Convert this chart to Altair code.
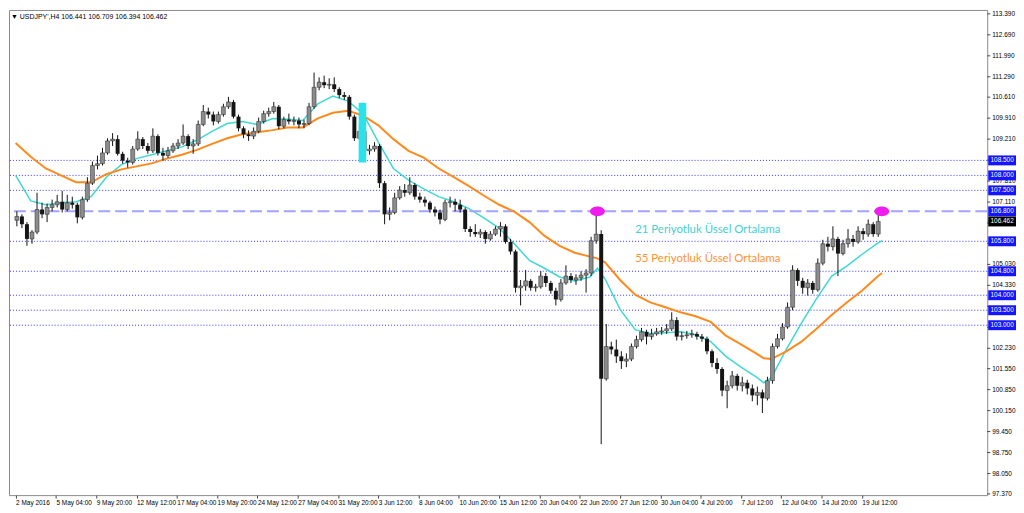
import json
import altair as alt
import pandas as pd

# ---------------- data (USDJPY, candles aggregated to 8h, prices in JPY) ----------------
first_open = 106.50
closes = [
    106.63, 106.37, 105.88, 106.11, 106.86, 106.70, 106.93, 107.02, 107.12, 106.86,
    107.09, 107.02, 106.60, 107.19, 107.74, 108.33, 108.39, 108.75, 109.15, 109.21,
    108.72, 108.49, 108.43, 108.88, 109.21, 108.98, 108.82, 109.31, 108.75, 108.66,
    108.82, 108.98, 109.08, 109.31, 108.98, 109.05, 109.70, 110.13, 110.03, 109.80,
    110.03, 110.29, 110.45, 109.96, 109.57, 109.37, 109.31, 109.47, 109.80, 110.06,
    110.13, 110.29, 109.64, 109.86, 109.80, 109.83, 109.70, 109.73, 110.29, 110.94,
    111.11, 111.01, 111.04, 110.88, 110.68, 110.62, 109.96, 109.24, 109.47, 108.82,
    108.88, 108.98, 107.74, 106.70, 106.76, 107.25, 107.51, 107.42, 107.68, 107.29,
    107.19, 107.09, 106.86, 106.76, 106.53, 107.09, 107.12, 107.02, 106.86, 106.21,
    106.11, 106.04, 106.11, 105.88, 106.04, 106.21, 106.30, 105.78, 105.46, 104.25,
    104.31, 104.48, 104.25, 104.28, 104.64, 104.41, 104.15, 103.86, 104.41, 104.64,
    104.51, 104.58, 104.67, 104.74, 105.82, 106.04, 101.21, 102.29, 102.19, 101.96,
    101.80, 101.87, 102.29, 102.52, 102.78, 102.62, 102.71, 102.78, 102.81, 102.88,
    103.17, 102.62, 102.65, 102.68, 102.71, 102.62, 102.55, 102.13, 101.74, 101.54,
    100.82, 100.98, 101.31, 100.98, 101.08, 100.89, 100.66, 100.76, 100.56, 101.15,
    102.29, 102.55, 102.94, 103.60, 104.84, 104.48, 104.25, 104.41, 104.18, 105.07,
    105.72, 105.62, 105.88, 105.39, 105.72, 105.88, 105.78, 106.14, 106.04, 106.37,
    106.04, 106.462,
]
highs = [
    106.80, 106.70, 106.44, 106.17, 107.42, 107.09, 107.06, 107.19, 107.35, 107.48,
    107.35, 107.29, 107.09, 107.29, 107.94, 108.46, 108.66, 108.92, 109.24, 109.41,
    109.34, 108.79, 108.59, 108.98, 109.47, 109.28, 109.08, 109.57, 109.37, 108.92,
    108.95, 109.08, 109.21, 109.70, 109.37, 109.21, 109.83, 110.35, 110.26, 110.13,
    110.13, 110.39, 110.62, 110.52, 110.03, 109.64, 109.50, 109.60, 109.93, 110.16,
    110.26, 110.45, 110.35, 109.96, 110.06, 109.96, 109.93, 109.86, 110.42, 111.43,
    111.27, 111.33, 111.24, 111.27, 110.94, 110.78, 110.68, 110.03, 109.70, 109.57,
    109.02, 109.11, 109.05, 107.81, 106.93, 107.42, 107.64, 107.71, 107.94, 107.74,
    107.42, 107.29, 107.15, 106.96, 106.86, 107.19, 107.29, 107.22, 107.19, 106.93,
    106.30, 106.37, 106.21, 106.17, 106.14, 106.30, 106.44, 106.37, 105.88, 105.52,
    104.51, 104.84, 104.54, 104.38, 104.80, 104.74, 104.48, 104.25, 104.54, 105.00,
    104.74, 104.70, 104.80, 104.87, 105.95, 106.80, 106.17, 103.04, 102.45, 102.52,
    102.13, 102.06, 102.39, 102.65, 102.91, 102.85, 102.88, 102.91, 102.94, 103.04,
    103.43, 103.27, 102.78, 102.81, 102.85, 102.78, 102.71, 102.62, 102.19, 101.90,
    101.60, 101.15, 101.47, 101.38, 101.28, 101.18, 101.02, 100.95, 100.85, 101.28,
    102.39, 102.71, 103.07, 103.76, 105.00, 104.90, 104.58, 104.54, 104.48, 105.23,
    105.85, 105.95, 106.30, 105.95, 105.85, 106.21, 106.01, 106.30, 106.24, 106.53,
    106.44, 106.709,
]
lows = [
    106.30, 106.24, 105.65, 105.72, 106.04, 106.57, 106.44, 106.80, 106.93, 106.76,
    106.80, 106.89, 106.40, 106.53, 107.12, 107.68, 108.20, 108.33, 108.69, 108.98,
    108.66, 108.39, 108.26, 108.36, 108.82, 108.88, 108.72, 108.75, 108.66, 108.49,
    108.59, 108.75, 108.88, 109.02, 108.88, 108.72, 108.98, 109.64, 109.90, 109.67,
    109.73, 109.96, 110.22, 109.90, 109.47, 109.24, 109.15, 109.21, 109.41, 109.73,
    109.96, 110.06, 109.54, 109.57, 109.70, 109.67, 109.57, 109.57, 109.67, 110.22,
    110.84, 110.91, 110.88, 110.78, 110.58, 110.52, 109.86, 109.15, 109.18, 108.72,
    108.69, 108.79, 107.58, 106.37, 106.50, 106.70, 107.19, 107.29, 107.35, 107.19,
    107.09, 106.96, 106.76, 106.63, 106.37, 106.47, 106.93, 106.80, 106.76, 106.11,
    105.95, 105.95, 105.91, 105.72, 105.82, 105.98, 105.95, 105.72, 105.36, 104.09,
    103.66, 104.15, 104.15, 104.12, 104.22, 104.28, 104.05, 103.66, 103.79, 104.35,
    104.41, 104.35, 104.48, 104.09, 104.64, 105.72, 99.03, 101.15, 102.03, 101.74,
    101.54, 101.60, 101.80, 102.22, 102.45, 102.36, 102.52, 102.65, 102.68, 102.71,
    102.81, 102.49, 102.49, 102.55, 102.58, 102.52, 102.45, 102.03, 101.60, 101.38,
    100.63, 100.23, 100.89, 100.82, 100.79, 100.69, 100.46, 100.33, 100.07, 100.49,
    101.05, 102.22, 102.49, 102.88, 103.50, 104.31, 104.05, 103.99, 104.05, 104.12,
    105.00, 105.46, 105.49, 104.64, 105.33, 105.59, 105.62, 105.72, 105.85, 105.95,
    105.95, 105.95,
]

# moving averages (x in H4 bar numbers)
ema_bars = [0, 6, 12, 18, 24, 30, 36, 42, 48, 54, 60, 66, 72, 78, 84, 90, 96, 102, 108, 114,
            120, 126, 132, 138, 144, 150, 156, 162, 168, 174, 180, 186, 192, 198, 204, 210,
            216, 222, 228, 231, 234, 240, 246, 252, 258, 264, 270, 276, 282, 288, 294, 297,
            300, 306, 312, 318, 324, 330, 336, 342, 344]
ema21 = [108.00, 107.15, 107.02, 107.09, 107.12, 107.29, 107.94, 108.36, 108.56, 108.69,
         108.82, 108.95, 109.18, 109.47, 109.73, 109.80, 109.70, 109.90, 109.87, 109.83,
         110.39, 110.65, 110.48, 110.06, 109.11, 108.23, 107.84, 107.55, 107.29, 107.12,
         106.89, 106.57, 106.24, 105.72, 105.16, 104.90, 104.61, 104.48, 104.61, 104.90,
         104.55, 103.53, 102.85, 102.72, 102.75, 102.78, 102.68, 102.45, 101.96, 101.60,
         101.28, 101.08, 101.24, 102.19, 103.07, 103.89, 104.64, 104.97, 105.36, 105.72,
         105.82]
ema55 = [109.08, 108.62, 108.23, 108.00, 107.77, 107.77, 108.04, 108.20, 108.30, 108.40,
         108.56, 108.69, 108.85, 109.05, 109.24, 109.37, 109.44, 109.51, 109.60, 109.60,
         109.90, 110.09, 110.16, 109.99, 109.67, 109.21, 108.82, 108.59, 108.23, 107.94,
         107.64, 107.32, 107.02, 106.79, 106.44, 105.98, 105.65, 105.42, 105.29, 105.23,
         105.10, 104.51, 104.02, 103.76, 103.60, 103.43, 103.30, 103.11, 102.65, 102.36,
         102.06, 101.90, 101.87, 102.13, 102.45, 102.88, 103.34, 103.76, 104.15, 104.61,
         104.74]

level_prices = [108.5, 108.0, 107.5, 105.8, 104.8, 104.0, 103.5, 103.0]
key_level = 106.8
last_price = 106.462

# price scale: every tick, and the labels that stay readable beside the level boxes
price_ticks = [113.39, 112.69, 111.99, 111.29, 110.61, 109.91, 109.21, 108.51, 107.81, 107.11,
               106.41, 105.73, 105.03, 104.33, 103.63, 102.93, 102.23, 101.55, 100.85, 100.15,
               99.45, 98.75, 98.05, 97.37]
price_labels = [113.39, 112.69, 111.99, 111.29, 110.61, 109.91, 109.21, 107.81, 107.11,
                105.03, 104.33, 102.23, 101.55, 100.85, 100.15, 99.45, 98.75, 98.05, 97.37]
time_tick_bars = list(range(0, 337, 16))
time_labels = ["2 May 2016", "5 May 04:00", "9 May 20:00", "12 May 12:00", "17 May 04:00",
               "19 May 20:00", "24 May 12:00", "27 May 04:00", "31 May 20:00", "3 Jun 12:00",
               "8 Jun 04:00", "10 Jun 20:00", "15 Jun 12:00", "20 Jun 04:00", "22 Jun 20:00",
               "27 Jun 12:00", "30 Jun 04:00", "4 Jul 20:00", "7 Jul 12:00", "12 Jul 04:00",
               "14 Jul 20:00", "19 Jul 12:00"]

highlight_bars = [136.2, 139.2]
highlight_prices = [108.43, 110.42]
marker_bars = [231.0, 343.9]
note_bar = 246.0
note_prices = [106.17, 105.20]
note_texts = ["21 Periyotluk Üssel Ortalama", "55 Periyotluk Üssel Ortalama"]
title_text = "▼ USDJPY',H4  106.441 106.709 106.394 106.462"

assert len(closes) == len(highs) == len(lows)
assert len(ema_bars) == len(ema21) == len(ema55)

# ---------------- tables ----------------
opens = [first_open] + closes[:-1]
candles = pd.DataFrame({
    "bar": [2 * k + 0.5 for k in range(len(closes))],
    "open": opens, "high": highs, "low": lows, "close": closes,
})
up = candles[candles["close"] >= candles["open"]]
down = candles[candles["close"] < candles["open"]]
ema_df = pd.DataFrame({"bar": ema_bars, "ema21": ema21, "ema55": ema55})
levels_df = pd.DataFrame({"level": level_prices, "label": [f"{v:.3f}" for v in level_prices]})
key_df = pd.DataFrame({"level": [key_level], "label": [f"{key_level:.3f}"]})
boxes_df = pd.concat([levels_df, key_df], ignore_index=True)
last_df = pd.DataFrame({"level": [last_price], "label": [f"{last_price:.3f}"]})
ptick_df = pd.DataFrame({"price": price_ticks})
plabel_df = pd.DataFrame({"price": price_labels, "label": [f"{v:.3f}" for v in price_labels]})
hl_df = pd.DataFrame({"b0": [highlight_bars[0]], "b1": [highlight_bars[1]],
                      "p0": [highlight_prices[0]], "p1": [highlight_prices[1]]})
mk_df = pd.DataFrame({"bar": marker_bars, "price": [key_level, key_level]})
note21_df = pd.DataFrame({"bar": [note_bar], "price": [note_prices[0]], "text": [note_texts[0]]})
note55_df = pd.DataFrame({"bar": [note_bar], "price": [note_prices[1]], "text": [note_texts[1]]})
title_df = pd.DataFrame({"t": [title_text]})

W, H = 986, 489
FONT = "Liberation Sans"

xscale = alt.Scale(domain=[-0.66, 383.8], nice=False, zero=False)
yscale = alt.Scale(domain=[97.33, 113.52], nice=False, zero=False)

label_expr = json.dumps(time_labels) + "[round(datum.value / 16)]"
x_axis = alt.Axis(values=time_tick_bars, labelExpr=label_expr, title=None, grid=False,
                  labelAlign="left", labelPadding=1, tickSize=3, labelFont=FONT,
                  labelFontSize=6.5, labelColor="#000000", tickColor="#444444",
                  domain=False, labelOverlap=False, labelFlush=False)

X = alt.X("bar:Q", scale=xscale)

def Y(field):
    return alt.Y(field, scale=yscale, axis=None)

lines = alt.Chart(levels_df).mark_rule(color="#3535ff", strokeWidth=1, strokeDash=[1, 2]).encode(
    y=Y("level:Q"))
key_line = alt.Chart(key_df).mark_rule(color="#a3a3ff", strokeWidth=2, strokeDash=[12, 5]).encode(
    y=Y("level:Q"))

ema21_line = alt.Chart(ema_df).mark_line(color="#3fd8d2", strokeWidth=1.5).encode(
    x=alt.X("bar:Q", scale=xscale, axis=x_axis), y=Y("ema21:Q"))
ema55_line = alt.Chart(ema_df).mark_line(color="#ff8a1c", strokeWidth=2).encode(
    x=X, y=Y("ema55:Q"))

wicks = alt.Chart(candles).mark_rule(color="#111111", strokeWidth=1).encode(
    x=X, y=Y("low:Q"), y2="high:Q")
up_bodies = alt.Chart(up).mark_bar(size=4, color="#8c8c8c", stroke="#222222",
                                   strokeWidth=0.5).encode(
    x=X, y=Y("open:Q"), y2="close:Q")
down_bodies = alt.Chart(down).mark_bar(size=4, color="#151515").encode(
    x=X, y=Y("open:Q"), y2="close:Q")

highlight = alt.Chart(hl_df).mark_rect(color="#27e3ec").encode(
    x=alt.X("b0:Q", scale=xscale), x2="b1:Q", y=Y("p0:Q"), y2="p1:Q")

ellipse = "M-1.5,0A1.5,1,0,1,0,1.5,0A1.5,1,0,1,0,-1.5,0Z"
markers = alt.Chart(mk_df).mark_point(shape=ellipse, size=100, filled=True, color="#ee1cee",
                                      opacity=1).encode(x=X, y=Y("price:Q"))

note21 = alt.Chart(note21_df).mark_text(align="left", baseline="middle", font="Lato",
                                        fontSize=11.5, color="#3fd2d2").encode(
    x=X, y=Y("price:Q"), text="text:N")
note55 = alt.Chart(note55_df).mark_text(align="left", baseline="middle", font="Lato",
                                        fontSize=11.5, color="#ff9238").encode(
    x=X, y=Y("price:Q"), text="text:N")

# right-hand price scale
pticks = alt.Chart(ptick_df).mark_rule(color="#444444", strokeWidth=1).encode(
    x=alt.value(W), x2=alt.value(W + 3), y=Y("price:Q"))
plabels = alt.Chart(plabel_df).mark_text(align="left", baseline="middle", font=FONT,
                                         fontSize=6.5, color="#000000").encode(
    x=alt.value(W + 5), y=Y("price:Q"), text="label:N")

box = "M-2.8,-1H2.8V1H-2.8Z"
level_boxes = alt.Chart(boxes_df).mark_point(
    shape=box, size=100, filled=True, color="#1414ff", opacity=1).encode(
    x=alt.value(W + 15), y=Y("level:Q"))
level_texts = alt.Chart(boxes_df).mark_text(
    color="white", font=FONT, fontSize=6.5, baseline="middle").encode(
    x=alt.value(W + 15), y=Y("level:Q"), text="label:N")
last_box = alt.Chart(last_df).mark_point(shape=box, size=100, filled=True, color="#000000",
                                         opacity=1).encode(x=alt.value(W + 15), y=Y("level:Q"))
last_text = alt.Chart(last_df).mark_text(color="white", font=FONT, fontSize=6.5,
                                         baseline="middle").encode(
    x=alt.value(W + 15), y=Y("level:Q"), text="label:N")

title = alt.Chart(title_df).mark_text(align="left", baseline="top", font=FONT, fontSize=7,
                                      color="#000000").encode(
    text="t:N", x=alt.value(2), y=alt.value(3))

chart = alt.layer(
    lines, ema21_line, key_line, ema55_line, wicks, up_bodies, down_bodies, highlight, markers,
    note21, note55, pticks, plabels, level_boxes, level_texts, last_box, last_text, title,
).properties(
    width=W, height=H, padding={"left": 0, "top": 0, "right": 0, "bottom": 0},
    background="white",
).configure_view(stroke="#8a8a8a", strokeWidth=1)

chart.save("out.html", embed_options={"renderer": "svg", "actions": False})
